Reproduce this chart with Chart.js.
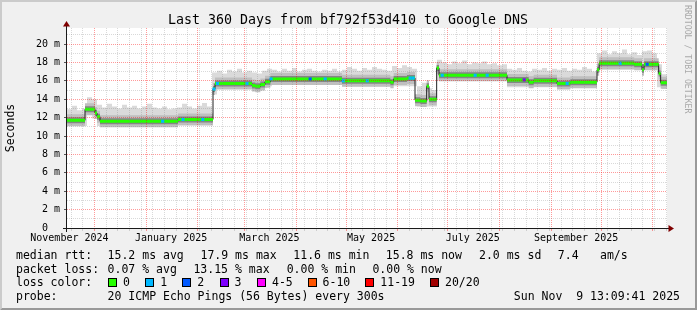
<!DOCTYPE html>
<html lang="en">
<head>
<meta charset="UTF-8">
<title>Last 360 Days from bf792f53d410 to Google DNS</title>
<script src="https://cdn.jsdelivr.net/npm/chart.js@4.4.1/dist/chart.umd.min.js"></script>
<style>
  html, body { margin: 0; padding: 0; background: #f0f0f0; }
  #smokeChart { display: block; }
</style>
</head>
<body>
<canvas id="smokeChart" width="697" height="310"></canvas>
<script>
// median rtt in ms, one entry per change point (days since graph start)
const medianDays = [0, 10.8, 16.8, 18.0, 19.8, 66.6, 87.6, 88.8, 111.0, 113.0,
  116.0, 118.8, 122.0, 165.0, 194.0, 196.0, 204.0, 208.8, 212.0, 215.8,
  217.2, 221.8, 223.2, 264.0, 277.0, 280.0, 294.0, 302.0, 318.0, 319.3,
  340.3, 345.0, 346.2, 355.0, 356.2];
const medianMs = [11.7, 12.9, 12.5, 12.1, 11.6, 11.8, 15.1, 15.7, 15.5, 15.4,
  15.6, 15.9, 16.2, 16.0, 15.85, 16.2, 16.3, 13.9, 13.8, 15.4,
  14.0, 17.4, 16.6, 16.1, 15.85, 16.0, 15.7, 15.85, 17.2, 17.9,
  17.8, 17.2, 17.8, 16.8, 15.8];

// smoke envelope, one value per 3 day bucket
const smokeStep = 3;
const smokeTop = [
  12.9, 13.3, 12.8, 13.0, 14.2, 14.0, 13.4, 13.1, 13.5, 13.2,
  13.0, 13.4, 13.1, 13.3, 13.0, 13.2, 13.5, 13.1, 13.0, 13.2,
  12.9, 13.0, 13.1, 13.5, 13.2, 13.0, 13.3, 13.6, 13.2, 16.9,
  17.1, 16.8, 17.2, 17.0, 17.3, 16.9, 17.1, 16.9, 16.8, 17.1,
  17.3, 17.2, 17.0, 17.3, 17.1, 17.4, 17.0, 17.2, 17.3, 17.1,
  17.0, 17.2, 17.1, 17.3, 17.0, 17.2, 17.5, 17.3, 17.1, 17.4,
  17.2, 17.5, 17.3, 17.2, 17.1, 17.6, 17.4, 17.7, 17.5, 17.3,
  15.4, 15.8, 15.2, 15.0, 18.3, 18.0, 17.8, 18.1, 17.9, 18.2,
  17.8, 18.0, 17.9, 18.1, 17.8, 17.9, 17.7, 17.8, 17.3, 17.2,
  17.4, 17.1, 17.0, 17.3, 17.2, 17.4, 17.1, 17.3, 17.2, 17.4,
  17.1, 17.3, 17.2, 17.5, 17.3, 17.0, 19.0, 19.3, 18.9, 19.2,
  19.0, 19.4, 18.9, 19.1, 18.8, 19.2, 19.3, 19.0, 17.8, 16.7,
  16.7];
const smokeBot = [
  11.1, 11.1, 11.1, 11.1, 12.3, 11.9, 11.1, 11.1, 11.1, 11.1,
  11.1, 11.1, 11.1, 11.1, 11.1, 11.1, 11.1, 11.1, 11.1, 11.1,
  11.1, 11.1, 11.3, 11.3, 11.3, 11.3, 11.3, 11.3, 11.3, 14.5,
  15.1, 15.1, 15.1, 15.1, 15.1, 15.1, 15.1, 14.9, 14.9, 15.2,
  15.4, 15.6, 15.6, 15.6, 15.6, 15.6, 15.6, 15.6, 15.6, 15.6,
  15.6, 15.6, 15.6, 15.6, 15.6, 15.4, 15.4, 15.4, 15.4, 15.4,
  15.4, 15.4, 15.4, 15.4, 15.4, 15.4, 15.4, 15.4, 15.4, 15.4,
  13.2, 13.2, 13.2, 13.2, 16.0, 16.0, 16.0, 16.0, 16.0, 16.0,
  16.0, 16.0, 16.0, 16.0, 16.0, 16.0, 16.0, 16.0, 15.3, 15.3,
  15.3, 15.3, 15.3, 15.3, 15.3, 15.3, 15.3, 15.3, 15.3, 15.3,
  15.3, 15.3, 15.3, 15.3, 15.3, 15.3, 17.2, 17.2, 17.2, 17.2,
  17.2, 17.2, 17.2, 17.2, 17.2, 17.2, 17.2, 17.2, 15.3, 15.1,
  15.1];

// spots where some pings were lost (loss bucket index into lossColors)
const lossDays = [57.4, 69.6, 81.5, 88.2, 90.3, 108.0, 122.4, 145.9, 154.9, 165.7,
  180.1, 205.9, 207.7, 225.1, 244.9, 252.1, 274.3, 300.1, 331.9, 348.1];
const lossLevel = [1, 1, 1, 1, 1, 1, 1, 2, 1, 1, 1, 1, 1, 1, 1, 1, 3, 1, 1, 2];

const lossLabels = ['0', '1', '2', '3', '4-5', '6-10', '11-19', '20/20'];
const lossColors = ['#26ff00', '#00b8ff', '#0059ff', '#7e00ff', '#ff00ff', '#ff5500', '#ff0000', '#a10000'];

const yLabels = ['0  ', '2 m', '4 m', '6 m', '8 m', '10 m', '12 m', '14 m', '16 m', '18 m', '20 m'];
const xLabels = ['November 2024', 'January 2025', 'March 2025', 'May 2025', 'July 2025', 'September 2025'];

const rttStats = ['15.2 ms avg', '17.9 ms max', '11.6 ms min', '15.8 ms now', '2.0 ms sd', '7.4', 'am/s'];
const lossStats = ['0.07 % avg', '13.15 % max', '0.00 % min', '0.00 % now'];
const probeText = '20 ICMP Echo Pings (56 Bytes) every 300s';
const stampText = 'Sun Nov  9 13:09:41 2025';
const titleText = 'Last 360 Days from bf792f53d410 to Google DNS';

const SPAN = 360;
const YMAX = 21.74;
const DAY = 86400000;
const t0 = Date.UTC(2024, 10, 14, 13, 9, 41);
const toDay = t => (t - t0) / DAY;

// ---- build what chart.js needs ----
function medianAt(day) {
  let v = medianMs[0];
  medianDays.forEach((d, i) => { if (d <= day) v = medianMs[i]; });
  return v;
}
// flat pieces only (no risers), like smokeping's loss coloured bars
function flatPieces() {
  const pts = [];
  medianDays.forEach((d, i) => {
    const next = i + 1 < medianDays.length ? medianDays[i + 1] : SPAN;
    pts.push({x: d, y: medianMs[i]}, {x: next, y: medianMs[i]}, {x: next, y: null});
  });
  return pts;
}
const medianLine = medianDays.map((d, i) => ({x: d, y: medianMs[i]}));
medianLine.push({x: SPAN, y: medianMs[medianMs.length - 1]});
const topPts = smokeTop.map((v, k) => ({x: k * smokeStep, y: v}));
const botPts = smokeBot.map((v, k) => ({x: k * smokeStep, y: v}));
const lossPts = lossDays.map(d => ({x: d, y: medianAt(d)}));

// grid: monthly major, weekly (sunday) minor
const monthTicks = [];
for (let m = 0; m < 12; m++) monthTicks.push(toDay(Date.UTC(2024, 11 + m, 1)));
const weekTicks = [];
for (let t = Date.UTC(2024, 10, 17); toDay(t) <= SPAN; t += 7 * DAY) {
  const d = toDay(t);
  if (!monthTicks.some(m => Math.abs(m - d) < 0.01)) weekTicks.push(d);
}
// labels centred half a month after the month start
const labelTicks = xLabels.map((s, i) => toDay(Date.UTC(2024, 10 + 2 * i, 1)) + 15);

const MONO = '"DejaVu Sans Mono", monospace';
const MAJOR = 'rgba(255,0,0,0.4)';
const MINOR = 'rgba(130,130,130,0.3)';

const rrdFrame = {
  id: 'rrdFrame',
  beforeDraw(chart) {
    const {ctx, width: w, height: h, chartArea: a} = chart;
    ctx.save();
    ctx.fillStyle = '#f0f0f0';
    ctx.fillRect(0, 0, w, h);
    ctx.fillStyle = '#cbcbcb';
    ctx.beginPath();
    ctx.moveTo(0, h); ctx.lineTo(2, h - 2); ctx.lineTo(2, 2); ctx.lineTo(w - 2, 2); ctx.lineTo(w, 0); ctx.lineTo(0, 0);
    ctx.closePath(); ctx.fill();
    ctx.fillStyle = '#999999';
    ctx.beginPath();
    ctx.moveTo(2, h - 2); ctx.lineTo(w - 2, h - 2); ctx.lineTo(w - 2, 2); ctx.lineTo(w, 0); ctx.lineTo(w, h); ctx.lineTo(0, h);
    ctx.closePath(); ctx.fill();
    ctx.fillStyle = '#ffffff';
    ctx.fillRect(a.left, a.top, a.right - a.left, a.bottom - a.top);
    ctx.restore();
  },
  afterDraw(chart) {
    const {ctx, chartArea: a} = chart;
    ctx.save();
    // axes + arrows
    ctx.strokeStyle = '#1a1a1a';
    ctx.lineWidth = 1;
    ctx.beginPath();
    ctx.moveTo(a.left - 4, a.bottom + 0.5); ctx.lineTo(a.right + 2, a.bottom + 0.5);
    ctx.moveTo(a.left - 0.5, a.bottom + 4); ctx.lineTo(a.left - 0.5, a.top - 2);
    ctx.stroke();
    ctx.fillStyle = '#7f0000';
    ctx.beginPath();
    ctx.moveTo(a.right + 1.5, a.bottom + 0.5 - 3.5); ctx.lineTo(a.right + 7, a.bottom + 0.5); ctx.lineTo(a.right + 1.5, a.bottom + 0.5 + 3.5);
    ctx.closePath(); ctx.fill();
    ctx.beginPath();
    ctx.moveTo(a.left - 4, a.top - 1.5); ctx.lineTo(a.left - 0.5, a.top - 7); ctx.lineTo(a.left + 3, a.top - 1.5);
    ctx.closePath(); ctx.fill();

    // title
    ctx.fillStyle = '#000';
    ctx.font = '13.3px ' + MONO;
    ctx.textAlign = 'center';
    ctx.textBaseline = 'alphabetic';
    ctx.fillText(titleText, 348, 24);

    // watermark
    ctx.save();
    ctx.translate(685, 5);
    ctx.rotate(Math.PI / 2);
    ctx.font = '8.2px ' + MONO;
    ctx.fillStyle = '#a9a9a9';
    ctx.textAlign = 'left';
    ctx.fillText('RRDTOOL / TOBI OETIKER', 0, 0);
    ctx.restore();

    // legend block
    ctx.font = '11.5px ' + MONO;
    ctx.fillStyle = '#000';
    ctx.textAlign = 'left';
    const rows = [258.6, 272.5, 286.4, 300.3];
    ctx.fillText('median rtt:', 16, rows[0]);
    [107.6, 200.5, 293.3, 385.8, 479, 557.8, 600].forEach((x, i) => ctx.fillText(rttStats[i], x, rows[0]));
    ctx.fillText('packet loss:', 16, rows[1]);
    [107.6, 193.4, 286.7, 372.4].forEach((x, i) => ctx.fillText(lossStats[i], x, rows[1]));
    ctx.fillText('loss color:', 16, rows[2]);
    [108, 145.3, 182.2, 219.6, 257, 307.6, 365.3, 430].forEach((x, i) => {
      ctx.fillStyle = lossColors[i];
      ctx.fillRect(Math.round(x), 278, 9, 9);
      ctx.strokeStyle = '#000';
      ctx.strokeRect(Math.round(x) + 0.5, 278.5, 8, 8);
      ctx.fillStyle = '#000';
      ctx.fillText(lossLabels[i], x + 15, rows[2]);
    });
    ctx.fillText('probe:', 16, rows[3]);
    ctx.fillText(probeText, 107.6, rows[3]);
    ctx.textAlign = 'right';
    ctx.fillText(stampText, 680, rows[3]);
    ctx.restore();
  }
};

// helper for the grid-only axes
function gridAxis(pos, weight, min, max, values, color) {
  return {
    type: 'linear', position: pos, weight: weight, min: min, max: max,
    afterBuildTicks: s => { s.ticks = values.map(v => ({value: v})); },
    afterFit: s => { if (pos === 'bottom') s.height = 0; else s.width = 0; },
    ticks: {display: false, autoSkip: false},
    grid: {z: 1, color: color, tickColor: color, tickLength: 3, drawTicks: pos === 'bottom'},
    border: {display: false, dash: [1, 1]}
  };
}

const clear = 'rgba(0,0,0,0)';
new Chart(document.getElementById('smokeChart'), {
  type: 'line',
  data: {
    datasets: [
      {data: topPts, stepped: true, fill: '+1', backgroundColor: '#dadada', borderColor: clear, pointRadius: 0, order: 6},
      {data: botPts, stepped: true, fill: false, borderColor: clear, pointRadius: 0, order: 6},
      {data: flatPieces(), borderColor: '#bfbfbf', borderWidth: 12, pointRadius: 0, order: 5},
      {data: flatPieces(), borderColor: '#858585', borderWidth: 6, pointRadius: 0, order: 4},
      {data: medianLine, stepped: true, borderColor: '#202020', borderWidth: 1, pointRadius: 0, order: 3},
      {data: flatPieces(), borderColor: lossColors[0], borderWidth: 3, pointRadius: 0, order: 2},
      {data: lossPts, showLine: false, pointStyle: 'rect', pointRadius: 2.2, pointBorderWidth: 0,
        pointBackgroundColor: lossLevel.map(l => lossColors[l]), order: 1}
    ]
  },
  options: {
    responsive: false,
    devicePixelRatio: 1,
    animation: false,
    spanGaps: false,
    layout: {padding: {left: 0, top: 28, right: 30, bottom: 62}},
    plugins: {legend: {display: false}, tooltip: {enabled: false}},
    scales: {
      x: gridAxis('bottom', 0, 0, SPAN, monthTicks, MAJOR),
      xw: gridAxis('bottom', 0.5, 0, SPAN, weekTicks, MINOR),
      xl: {
        type: 'linear', position: 'bottom', weight: 1, min: 0, max: SPAN,
        afterBuildTicks: s => { s.ticks = labelTicks.map(v => ({value: v})); },
        afterFit: s => { s.height = 20; },
        ticks: {autoSkip: false, maxRotation: 0, minRotation: 0, padding: 4, color: '#000',
          font: {family: MONO, size: 10}, callback: (v, i) => xLabels[i]},
        grid: {display: false, drawTicks: false},
        border: {display: false}
      },
      y: {
        type: 'linear', position: 'left', weight: 0, min: 0, max: YMAX,
        afterBuildTicks: s => { s.ticks = yLabels.map((l, i) => ({value: i * 2})); },
        afterFit: s => { s.width = 67; },
        ticks: {padding: 4, color: '#000', font: {family: MONO, size: 10},
          callback: (v, i) => yLabels[i]},
        grid: {z: 1, color: MAJOR, tickColor: '#555', tickLength: 3},
        border: {display: false, dash: [1, 1]},
        title: {display: true, text: 'Seconds', color: '#000', font: {family: MONO, size: 11.5},
          padding: {top: 4, bottom: 0}}
      },
      yw: gridAxis('left', -1, 0, YMAX, [1, 3, 5, 7, 9, 11, 13, 15, 17, 19, 21], MINOR)
    }
  },
  plugins: [rrdFrame]
});
</script>
</body>
</html>
